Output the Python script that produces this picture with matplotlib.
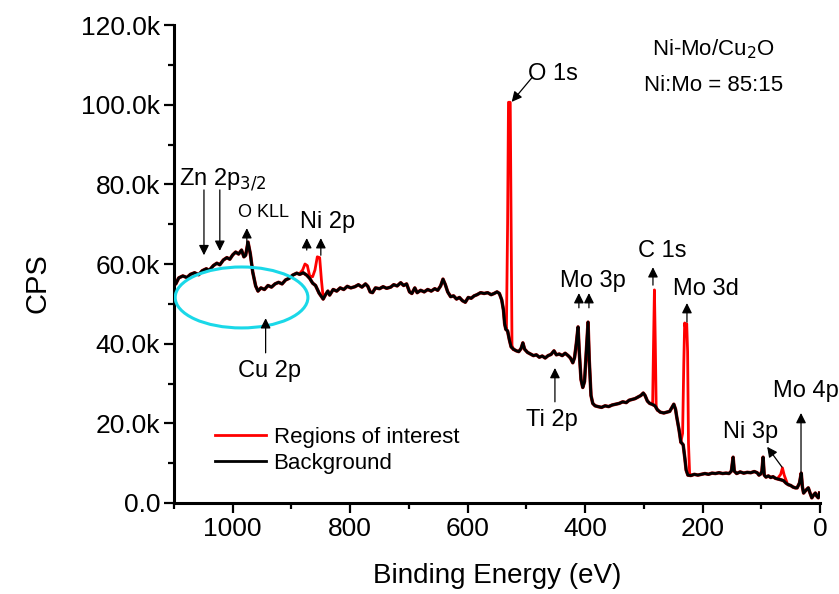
import matplotlib
matplotlib.use('Agg')
import matplotlib.pyplot as plt
from matplotlib.patches import Ellipse
from matplotlib.ticker import MultipleLocator, FuncFormatter

plt.rcParams['font.family'] = ['Liberation Sans', 'DejaVu Sans']

# survey spectrum, background curve (binding energy in eV, counts in kCPS)
bg_ev = [1100, 1097, 1092, 1085, 1078, 1072, 1065, 1058, 1052, 1045, 1040,
         1033, 1027, 1022, 1016, 1010, 1005, 1000, 995, 990, 985, 981, 978,
         974, 970, 966, 961, 957, 952, 946, 940, 934, 928, 922, 916, 910,
         904, 898, 891, 886, 880, 874, 869, 864, 859, 853, 846, 842, 838,
         835, 829, 823, 817, 811, 805, 799, 792, 786, 780, 774, 770, 766,
         762, 757, 750, 744, 738, 731, 726, 720, 714, 709, 704, 699, 695,
         690, 686, 680, 674, 668, 662, 656, 651, 646, 642, 638, 634, 629,
         624, 619, 614, 609, 604, 599, 594, 589, 584, 578, 572, 566, 560,
         555, 550, 546, 542, 539, 537, 535, 532, 529, 526, 522, 517, 513,
         509, 506, 503, 498, 493, 488, 483, 478, 473, 468, 463, 458, 453,
         449, 444, 439, 434, 429, 425, 421, 418, 415, 412, 410, 407, 404,
         401, 398, 395, 393, 390, 387, 383, 378, 372, 366, 360, 354, 348,
         342, 336, 330, 325, 320, 315, 310, 305, 301, 298, 294, 290, 286,
         281, 277, 272, 266, 261, 256, 252, 249, 246, 244, 240, 237, 233,
         230, 228, 225, 220, 214, 208, 202, 196, 190, 184, 178, 172, 166,
         160, 155, 151, 148, 146, 142, 136, 130, 124, 118, 112, 107, 104,
         101, 99, 97, 95, 92, 88, 84, 80, 76, 71, 66, 62, 58, 54, 50, 46,
         42, 39, 35, 32, 30, 28, 24, 20, 17, 14, 11, 8, 6, 3, 1]
bg_kcps = [55.2, 55.0, 56.5, 57.0, 56.6, 57.4, 57.8, 57.3, 58.3, 58.8, 58.4,
           59.6, 60.2, 59.8, 61.0, 61.6, 61.2, 62.3, 63.0, 62.5, 63.5, 61.8,
           62.2, 65.5, 62.5, 58.0, 54.5, 53.2, 54.0, 53.6, 54.6, 54.2, 55.0,
           55.4, 55.0, 56.0, 56.4, 57.2, 57.7, 57.4, 57.8, 57.2, 56.4, 55.2,
           54.6, 52.7, 51.2, 52.3, 53.2, 52.2, 53.6, 53.2, 54.0, 53.6, 54.4,
           54.0, 54.3, 54.8, 54.2, 55.0, 54.4, 53.0, 52.8, 54.0, 53.8, 54.3,
           53.9, 54.2, 54.8, 54.5, 55.3, 54.6, 55.0, 53.0, 52.6, 54.0, 52.8,
           53.4, 53.0, 53.6, 53.2, 53.8, 53.4, 54.5, 56.2, 54.8, 53.0, 51.8,
           52.0, 51.2, 51.6, 50.8, 50.4, 51.6, 51.4, 52.0, 52.3, 52.8, 52.6,
           52.8, 52.3, 52.6, 53.0, 52.6, 51.0, 48.4, 45.0, 43.6, 43.2, 41.0,
           39.2, 38.6, 38.2, 38.0, 38.8, 40.2, 38.6, 37.8, 37.4, 37.0, 37.2,
           36.6, 36.9, 36.4, 37.0, 37.3, 38.2, 37.2, 37.4, 37.0, 37.6, 37.0,
           36.4, 35.2, 36.5, 40.0, 44.2, 38.0, 31.0, 29.0, 30.5, 38.0, 45.4,
           36.0, 27.0, 25.0, 24.4, 24.2, 24.0, 24.4, 24.2, 24.6, 24.8, 25.0,
           25.4, 25.2, 25.8, 26.0, 26.2, 26.6, 27.0, 27.6, 27.0, 25.6, 25.0,
           24.8, 24.4, 23.4, 22.8, 22.6, 22.8, 23.0, 24.0, 24.8, 23.5, 21.6,
           18.3, 15.3, 14.6, 11.0, 8.3, 7.0, 6.9, 7.2, 7.0, 7.2, 7.4, 7.2,
           7.5, 7.4, 7.6, 7.4, 7.5, 7.4, 8.0, 11.5, 8.0, 7.4, 7.8, 7.5, 7.7,
           7.6, 7.9, 7.6, 7.0, 7.3, 8.0, 11.5, 7.0, 6.5, 6.8, 6.4, 6.6, 6.2,
           6.0, 5.8, 5.6, 5.0, 4.6, 4.4, 4.0, 3.8, 3.8, 5.0, 7.5, 4.0, 2.5,
           3.2, 3.8, 2.5, 1.3, 2.0, 2.5, 1.8, 1.3, 2.5]

# regions of interest (red)
ni2p_ev = [886, 881, 877, 873, 869, 864, 860, 856, 852, 849, 846]
ni2p_kcps = [57.6, 58.5, 60.0, 59.6, 57.0, 56.8, 58.5, 61.8, 61.6, 56.0, 51.5]
o1s_ev = [537, 534, 532, 530.5, 527.5, 526, 524.5, 522]
o1s_kcps = [45.0, 43.5, 70.0, 100.6, 100.6, 70.0, 39.5, 38.6]
c1s_ev = [288, 285, 283.5, 282, 280.5, 279, 277]
c1s_kcps = [25.0, 25.2, 40.0, 53.5, 40.0, 24.2, 23.4]
mo3d_ev = [237, 234, 232, 230.5, 228.5, 227, 225.5, 224, 222, 219]
mo3d_kcps = [15.3, 17.5, 35.0, 45.2, 43.5, 45.0, 38.0, 15.0, 7.2, 7.0]
ni3p_ev = [72, 67, 64, 61, 57]
ni3p_kcps = [6.2, 7.2, 8.8, 7.0, 5.4]

regions = [(ni2p_ev, ni2p_kcps), (o1s_ev, o1s_kcps), (c1s_ev, c1s_kcps),
           (mo3d_ev, mo3d_kcps), (ni3p_ev, ni3p_kcps)]

fig = plt.figure(figsize=(8.39, 5.94), dpi=100)
ax = fig.add_axes([0.2074, 0.1532, 0.770, 0.8047])

k = 1000.0
for n, (ev, c) in enumerate(regions):
    ax.plot(ev, [v * k for v in c], color='red', lw=2.0, zorder=2,
            label='Regions of interest' if n == 0 else None)
ax.plot(bg_ev, [v * k for v in bg_kcps], color='#b00000', lw=2.5, zorder=2.5)
ax.plot(bg_ev, [v * k for v in bg_kcps], color='black', lw=2.0, zorder=3,
        label='Background')

# Cu 2p ellipse
ax.add_patch(Ellipse((985, 51600), 226, 15300, fill=False,
                     edgecolor='#1ad8e8', lw=2.2, zorder=4))

arrow = dict(arrowstyle='-|>', color='black', lw=0.9, mutation_scale=15,
             shrinkA=0, shrinkB=0)
# (tail, head) pairs in (eV, CPS)
arrows = [((1049, 78600), (1049, 62200)), ((1022, 78600), (1022, 63300)),
          ((976, 64300), (976, 69000)),
          ((874, 63500), (874, 66500)), ((850, 62200), (850, 66500)),
          ((944, 37700), (944, 46400)),
          ((491, 106700), (525, 100700)),
          ((410.6, 49000), (410.6, 52700)), ((393.5, 49000), (393.5, 52700)),
          ((451.4, 25400), (451.4, 33900)),
          ((284.5, 54700), (284.5, 59200)),
          ((226.6, 45400), (226.6, 50200)),
          ((64.7, 9000), (90, 14100)),
          ((32.4, 7800), (32.4, 22600))]
for tail, head in arrows:
    ax.annotate('', xy=head, xytext=tail, arrowprops=arrow, zorder=5)

fs = 17
ax.text(1092, 79800, r'Zn 2p$_{3/2}$', fontsize=fs)
ax.text(991, 71800, 'O KLL', fontsize=13)
ax.text(886, 69000, 'Ni 2p', fontsize=fs)
ax.text(991, 31600, 'Cu 2p', fontsize=fs)
ax.text(497, 106200, 'O 1s', fontsize=fs)
ax.text(443, 54200, 'Mo 3p', fontsize=fs)
ax.text(501, 19300, 'Ti 2p', fontsize=fs)
ax.text(310, 61700, 'C 1s', fontsize=fs)
ax.text(250, 52200, 'Mo 3d', fontsize=fs)
ax.text(165, 16300, 'Ni 3p', fontsize=fs)
ax.text(80, 26600, 'Mo 4p', fontsize=fs)
ax.text(0.835, 0.936, r'Ni-Mo/Cu$_2$O', fontsize=16, ha='center',
        transform=ax.transAxes)
ax.text(0.835, 0.861, 'Ni:Mo = 85:15', fontsize=16, ha='center',
        transform=ax.transAxes)

ax.set_xlim(1100, 0)
ax.set_ylim(0, 120000)
ax.xaxis.set_major_locator(MultipleLocator(200))
ax.xaxis.set_minor_locator(MultipleLocator(100))
ax.yaxis.set_major_locator(MultipleLocator(20000))
ax.yaxis.set_minor_locator(MultipleLocator(10000))
ax.yaxis.set_major_formatter(FuncFormatter(
    lambda v, p: '0.0' if v == 0 else f'{v / 1000:.1f}k'))

for s in ['top', 'right']:
    ax.spines[s].set_visible(False)
for s in ['left', 'bottom']:
    ax.spines[s].set_linewidth(2.2)
ax.tick_params(which='major', length=7, width=1.6, labelsize=19, pad=3)
ax.tick_params(which='minor', length=4, width=1.6)

ax.set_xlabel('Binding Energy (eV)', fontsize=20)
ax.set_ylabel('CPS', fontsize=21)
ax.xaxis.set_label_coords(0.5, -0.125)
ax.yaxis.set_label_coords(-0.19, 0.46)

ax.legend(loc='upper left', bbox_to_anchor=(0.063, 0.16), frameon=False,
          fontsize=16, handlelength=2.3, handletextpad=0.35,
          labelspacing=0.25, borderpad=0, borderaxespad=0)

fig.savefig('out.png', dpi=100)
